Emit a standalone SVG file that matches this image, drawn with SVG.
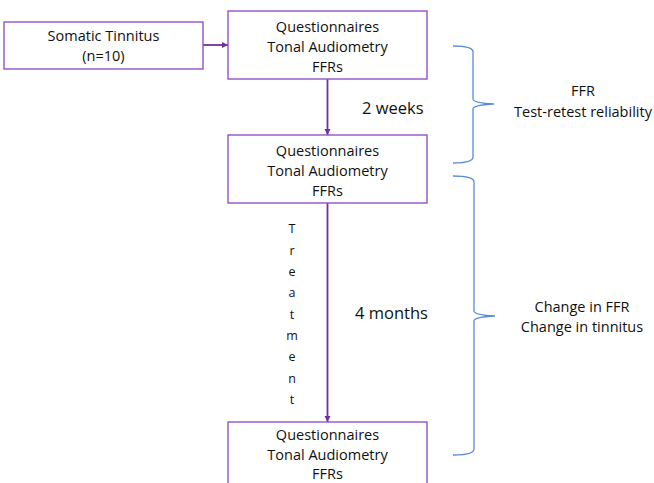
<svg xmlns="http://www.w3.org/2000/svg" width="654" height="483" viewBox="0 0 654 483">
<style>
.box{fill:#fff;stroke:#9253C6;stroke-width:1.4}
.t{font-family:"Open Sans","Liberation Sans",sans-serif;font-size:14.5px;fill:#111;text-anchor:middle}
.lbl{font-family:"Open Sans","Liberation Sans",sans-serif;font-size:16.5px;fill:#111}
.tr{font-family:"Open Sans","Liberation Sans",sans-serif;font-size:12.5px;fill:#111;text-anchor:middle}
.arr{stroke:#7030A0;stroke-width:1.8;fill:none}
.brace{stroke:#5B8BD9;stroke-width:1.3;fill:none}
</style>
<defs>
<marker id="ah" viewBox="0 0 6 6" refX="6" refY="3" markerWidth="3.5" markerHeight="3.5" orient="auto" markerUnits="strokeWidth">
<path d="M0,0 L6,3 L0,6 z" fill="#7030A0"/>
</marker>
</defs>
<rect width="654" height="483" fill="#fff"/>
<g id="connectors">
<line class="arr" x1="203" y1="45" x2="228" y2="45" marker-end="url(#ah)"/>
<line class="arr" x1="327.5" y1="79" x2="327.5" y2="135" marker-end="url(#ah)"/>
<line class="arr" x1="327.5" y1="203" x2="327.5" y2="422" marker-end="url(#ah)"/>
</g>
<g id="somatic">
<rect class="box" x="4" y="22" width="199" height="47"/>
<text class="t" x="103.5" y="41">Somatic Tinnitus</text>
<text class="t" x="103.5" y="61">(n=10)</text>
</g>
<g id="visit1">
<rect class="box" x="228" y="11" width="199" height="68"/>
<text class="t" x="327.5" y="32">Questionnaires</text>
<text class="t" x="327.5" y="52">Tonal Audiometry</text>
<text class="t" x="327.5" y="72">FFRs</text>
</g>
<g id="visit2">
<rect class="box" x="228" y="135" width="199" height="68"/>
<text class="t" x="327.5" y="156">Questionnaires</text>
<text class="t" x="327.5" y="176">Tonal Audiometry</text>
<text class="t" x="327.5" y="196">FFRs</text>
</g>
<g id="visit3">
<rect class="box" x="228" y="422" width="199" height="80"/>
<text class="t" x="327.5" y="440">Questionnaires</text>
<text class="t" x="327.5" y="460">Tonal Audiometry</text>
<text class="t" x="327.5" y="479">FFRs</text>
</g>
<g id="labels">
<text class="lbl" x="362" y="114">2 weeks</text>
<text class="lbl" x="355" y="319">4 months</text>
<text class="tr" x="292"><tspan x="292" y="233">T</tspan><tspan x="292" y="254.5">r</tspan><tspan x="292" y="276">e</tspan><tspan x="292" y="297">a</tspan><tspan x="292" y="318.5">t</tspan><tspan x="292" y="340">m</tspan><tspan x="292" y="361">e</tspan><tspan x="292" y="382.5">n</tspan><tspan x="292" y="404">t</tspan></text>
</g>
<g id="brace1">
<path class="brace" d="M453,46 Q473,46 473,52 L473,99 Q473,103 494,104 Q473,105 473,109 L473,157 Q473,163 453,163"/>
<text class="t" x="583" y="96">FFR</text>
<text class="t" x="583" y="117">Test-retest reliability</text>
</g>
<g id="brace2">
<path class="brace" d="M453,176 Q474,176 474,182 L474,311 Q474,315 495,316 Q474,317 474,321 L474,449 Q474,455 453,455"/>
<text class="t" x="582" y="312">Change in FFR</text>
<text class="t" x="582" y="332">Change in tinnitus</text>
</g>
</svg>
